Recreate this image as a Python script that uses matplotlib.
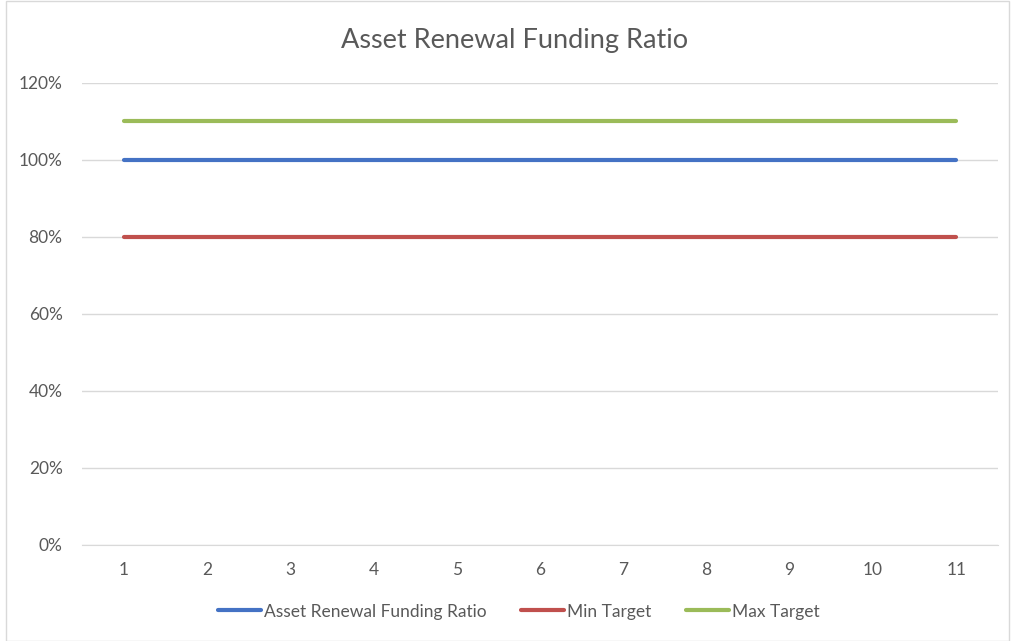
import matplotlib
matplotlib.use("Agg")
import matplotlib.pyplot as plt
from matplotlib.patches import Rectangle
from matplotlib.ticker import PercentFormatter

years = list(range(1, 12))
ratio = [1.0] * 11
min_target = [0.8] * 11
max_target = [1.1] * 11

plt.rcParams['font.family'] = ['Lato', 'DejaVu Sans']

fig = plt.figure(figsize=(10.13, 6.41), dpi=100)
ax = fig.add_axes([0.081, 0.150, 0.904, 0.721])

ax.plot(years, ratio, color='#4472C4', lw=3, solid_capstyle='round', label='Asset Renewal Funding Ratio')
ax.plot(years, min_target, color='#C0504D', lw=3, solid_capstyle='round', label='Min Target')
ax.plot(years, max_target, color='#9BBB59', lw=3, solid_capstyle='round', label='Max Target')

ax.set_xlim(0.5, 11.5)
ax.set_ylim(0, 1.2)
ax.set_xticks(years)
ax.set_yticks([0, 0.2, 0.4, 0.6, 0.8, 1.0, 1.2])
ax.yaxis.set_major_formatter(PercentFormatter(1.0, decimals=0))
ax.grid(axis='y', color='#D9D9D9', lw=1)
ax.set_axisbelow(True)
for s in ['top', 'right', 'left']:
    ax.spines[s].set_visible(False)
ax.spines['bottom'].set_color('#D9D9D9')
ax.tick_params(length=0, labelsize=12.5, colors='#595959', pad=12)
ax.tick_params(axis='y', pad=14)

fig.text(0.508, 0.937, 'Asset Renewal Funding Ratio', ha='center', va='center',
         fontsize=19.5, color='#595959')

fig.legend(loc='center', bbox_to_anchor=(0.512, 0.046), ncol=3, frameon=False,
           fontsize=12.5, labelcolor='#595959', handlelength=2.5, handletextpad=0.15,
           columnspacing=2.0)

fig.patches.append(Rectangle((0.006, 0.0), 0.99, 0.998, transform=fig.transFigure,
                             fill=False, edgecolor='#D9D9D9', lw=1))

fig.savefig('out.png', dpi=100)
